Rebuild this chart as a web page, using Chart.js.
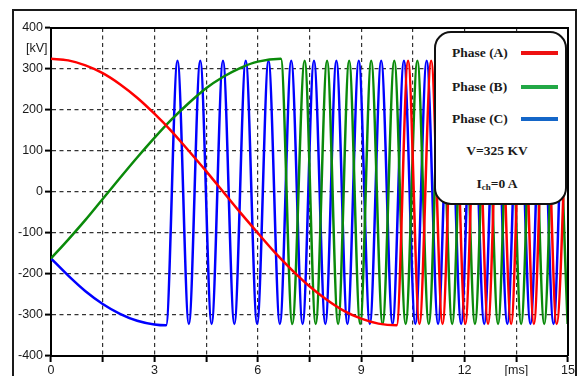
<!DOCTYPE html>
<html><head><meta charset="utf-8">
<script src="https://cdn.jsdelivr.net/npm/chart.js@4.4.1/dist/chart.umd.min.js"></script>
<style>
html,body{margin:0;padding:0;background:#fff;}
#wrap{position:relative;width:579px;height:376px;overflow:hidden;background:#fff;}
#frame{position:absolute;left:12px;top:9px;width:565px;height:420px;border:2px solid #1a1a1a;box-sizing:border-box;}
canvas{position:absolute;left:0;top:0;}
.lbl{position:absolute;font-family:"Liberation Sans",Arial,sans-serif;font-size:12.5px;color:#1a1a1a;white-space:nowrap;}
#legend{position:absolute;left:434px;top:31px;width:133px;height:174px;border:2.5px solid #111;border-radius:17px;background:#fff;box-sizing:border-box;}
.lt{position:absolute;font-family:"Liberation Serif","Times New Roman",serif;font-weight:bold;font-size:13.5px;color:#1a1a1a;white-space:nowrap;transform:translateY(-50%);}
.sw{position:absolute;height:4px;width:37px;left:521px;}
</style></head>
<body>
<div id="wrap">
<div id="frame"></div>
<canvas id="c" width="579" height="376"></canvas>
<div class="lbl" style="left:26px;top:41px;">[kV]</div>
<div id="legend"></div>
<div class="lt" style="left:452px;top:53px;">Phase (A)</div>
<div class="sw" style="top:51px;background:#ee1111;"></div>
<div class="lt" style="left:452px;top:87px;">Phase (B)</div>
<div class="sw" style="top:85px;background:#22a846;"></div>
<div class="lt" style="left:452px;top:119px;">Phase (C)</div>
<div class="sw" style="top:117px;background:#1466c8;"></div>
<div class="lt" style="left:497px;top:151px;transform:translate(-50%,-50%);">V=325 KV</div>
<div class="lt" style="left:497px;top:184px;transform:translate(-50%,-50%);">I<sub style="font-size:9px;vertical-align:-2px;">ch</sub>=0 A</div>
</div>
<script>
// ---- data (time in ms, voltage in kV) ----
const seriesNames = ['Phase (A)', 'Phase (B)', 'Phase (C)'];

const phaseATime = [0,0.5,1,1.5,2,2.5,3,3.5,4,4.5,5,5.5,6,6.5,7,7.5,8,8.5,9,9.5,10.03,
  10.36,10.69,11.03,11.36,11.69,12.02,12.35,12.68,13.01,13.35,13.68,14.01,14.34,14.67,15];
const phaseAKv = [325,321,309,290,263,230,191,148,100,51,0,-51,-100,-148,-191,-230,-263,-290,-309,-321,-325,
  320,-322,320,-322,320,-322,320,-322,320,-322,320,-322,320,-322,320];

const phaseBTime = [0,0.5,1,1.5,2,2.5,3,3.5,4,4.5,5,5.5,6,6.67,
  7.0,7.36,7.68,8.01,8.33,8.65,8.97,9.29,9.62,9.96,10.29,10.63,10.96,11.3,11.64,11.97,12.3,12.64,12.97,13.31,13.64,13.98,14.31,14.65,14.99];
const phaseBKv = [-162,-116,-68,-17,34,84,132,177,217,253,281,303,318,325,
  -322,320,-322,320,-322,320,-322,320,-322,320,-322,320,-322,320,-322,320,-322,320,-322,320,-322,320,-322,320,-322];

const phaseCTime = [0,0.5,1,1.5,2,2.5,3,3.34,
  3.67,4.0,4.33,4.66,4.99,5.32,5.65,5.98,6.31,6.64,6.97,7.3,7.63,7.96,8.28,8.6,8.93,9.25,9.58,9.91,
  10.24,10.57,10.9,11.23,11.56,11.9,12.23,12.57,12.9,13.24,13.57,13.91,14.24,14.58,14.91,15];
const phaseCKv = [-162,-204,-242,-273,-297,-314,-323,-325,
  320,-322,320,-322,320,-322,320,-322,320,-322,320,-322,320,-322,320,-322,320,-322,320,-322,
  320,-322,320,-322,320,-322,320,-322,320,-322,320,-322,320,-322,320,290];

const yTicks = [-400,-300,-200,-100,0,100,200,300,400];
const xTicks = [0,1.5,3,4.5,6,7.5,9,10.5,12,13.5,15];
const xTickLabels = ['0','','3','','6','','9','','12','[ms]','15'];

const colors = ['#ff0000','#0a8a0a','#0000ff'];

function pts(t, v){ return t.map((x,i)=>({x:x, y:v[i]})); }

const boxPlugin = {
  id:'box',
  afterDatasetsDraw(chart){
    const {ctx, chartArea:a} = chart;
    ctx.save();
    ctx.strokeStyle = '#000'; ctx.lineWidth = 2;
    ctx.beginPath();
    ctx.moveTo(a.left, a.top); ctx.lineTo(a.right, a.top); ctx.lineTo(a.right, a.bottom);
    ctx.stroke();
    ctx.restore();
  }
};

new Chart(document.getElementById('c'), {
  type:'line',
  data:{
    datasets:[
      {label:seriesNames[0], data:pts(phaseATime, phaseAKv), borderColor:colors[0]},
      {label:seriesNames[1], data:pts(phaseBTime, phaseBKv), borderColor:colors[1]},
      {label:seriesNames[2], data:pts(phaseCTime, phaseCKv), borderColor:colors[2]}
    ]
  },
  options:{
    responsive:false, animation:false,
    layout:{padding:{top:28,right:11,bottom:0,left:0}},
    elements:{
      point:{radius:0},
      line:{borderWidth:2.5, cubicInterpolationMode:'monotone', fill:false}
    },
    plugins:{legend:{display:false}, tooltip:{enabled:false}},
    scales:{
      x:{
        type:'linear', min:0, max:15,
        afterBuildTicks(s){ s.ticks = xTicks.map(v=>({value:v})); },
        afterFit(s){ s.height = 20; },
        ticks:{
          autoSkip:false, maxRotation:0, padding:1, color:'#1a1a1a',
          font:{family:'"Liberation Sans", Arial, sans-serif', size:12.5},
          callback(v, i){ return xTickLabels[i]; }
        },
        grid:{color:'#333', lineWidth:1.2, tickLength:6, tickColor:'#000', tickWidth:2, tickBorderDash:[]},
        border:{display:true, color:'#000', width:2, dash:[4,3.5]}
      },
      y:{
        type:'linear', min:-400, max:400,
        afterBuildTicks(s){ s.ticks = yTicks.map(v=>({value:v})); },
        afterFit(s){ s.width = 51; },
        ticks:{
          padding:2, color:'#1a1a1a',
          font:{family:'"Liberation Sans", Arial, sans-serif', size:12.5},
          callback(v){ return String(v); }
        },
        grid:{color:'#333', lineWidth:1.2, tickLength:6, tickColor:'#000', tickWidth:2, tickBorderDash:[]},
        border:{display:true, color:'#000', width:2, dash:[4,3.5]}
      }
    }
  },
  plugins:[boxPlugin]
});
</script>
</body></html>
